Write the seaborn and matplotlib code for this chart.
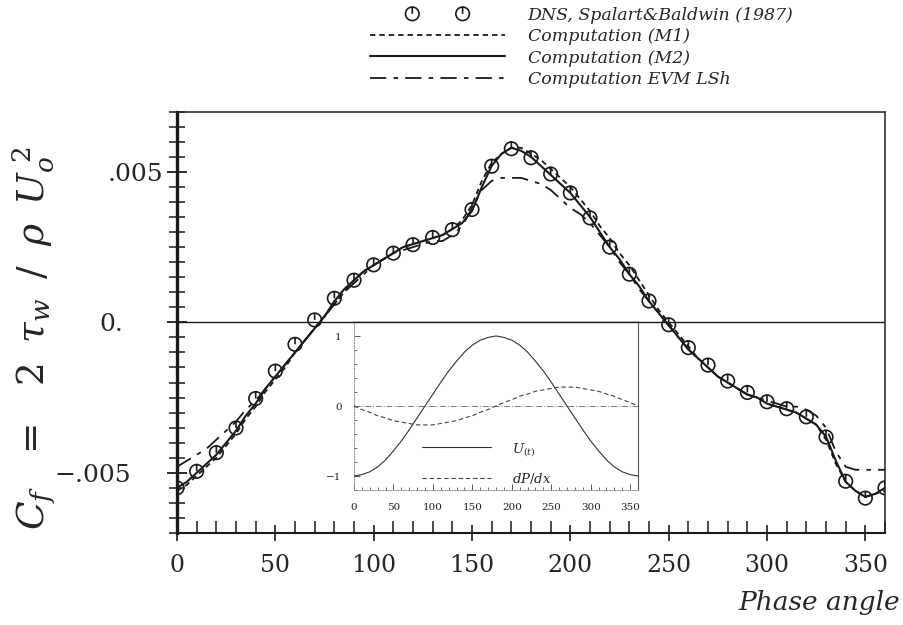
import matplotlib
matplotlib.use("Agg")
import matplotlib.pyplot as plt
from matplotlib.path import Path
from matplotlib.ticker import MultipleLocator, FixedLocator, FixedFormatter, NullFormatter
from matplotlib.legend_handler import HandlerPathCollection
from matplotlib.transforms import ScaledTranslation
import pandas as pd
import seaborn as sns

# ---------------------------------------------------------------- data
# DNS skin friction, Spalart & Baldwin (1987), every 10 degrees of phase
dns_phase = list(range(0, 370, 10))
dns_cf = [-0.00550, -0.00495, -0.00433, -0.00351, -0.00253, -0.00162, -0.00073,
          0.00008, 0.00080, 0.00140, 0.00191, 0.00230, 0.00258, 0.00282,
          0.00308, 0.00375, 0.00519, 0.00577, 0.00547, 0.00493, 0.00430,
          0.00347, 0.00250, 0.00160, 0.00071, -0.00008, -0.00084, -0.00142,
          -0.00195, -0.00233, -0.00264, -0.00287, -0.00314, -0.00381,
          -0.00528, -0.00584, -0.00550]

# computed skin friction, every 5 degrees of phase
calc_phase = list(range(0, 365, 5))
cf_m1 = [-0.0056, -0.0054, -0.0051, -0.0048, -0.0045, -0.0041, -0.0037, -0.0032,
         -0.0028, -0.0023, -0.0019, -0.0015, -0.0010, -0.0006, -0.0002, 0.0002,
         0.0006, 0.0010, 0.0014, 0.0017, 0.0019, 0.0021, 0.0023, 0.0025,
         0.0026, 0.0027, 0.0028, 0.0029, 0.0031, 0.0034, 0.0039, 0.0047,
         0.0053, 0.0056, 0.0058, 0.0058, 0.0056, 0.0054, 0.0051, 0.0048,
         0.0045, 0.0041, 0.0037, 0.0032, 0.0028, 0.0023, 0.0019, 0.0014,
         0.0009, 0.0004, 0.0000, -0.0004, -0.0008, -0.0012, -0.0015, -0.0018,
         -0.0020, -0.0022, -0.0024, -0.0025, -0.0027, -0.0028, -0.0029, -0.0030,
         -0.0032, -0.0034, -0.0039, -0.0047, -0.0053, -0.0056, -0.0058, -0.0057,
         -0.0056]
cf_m2 = [-0.0055, -0.0053, -0.0050, -0.0047, -0.0044, -0.0040, -0.0036, -0.0031,
         -0.0027, -0.0022, -0.0018, -0.0014, -0.0010, -0.0006, -0.0002, 0.0002,
         0.0007, 0.0011, 0.0014, 0.0017, 0.0019, 0.0021, 0.0023, 0.0025,
         0.0026, 0.0027, 0.0028, 0.0029, 0.0031, 0.0033, 0.0037, 0.0045,
         0.0052, 0.0056, 0.0058, 0.0057, 0.0055, 0.0052, 0.0049, 0.0046,
         0.0043, 0.0039, 0.0035, 0.0030, 0.0025, 0.0021, 0.0016, 0.0012,
         0.0007, 0.0003, -0.0001, -0.0005, -0.0009, -0.0012, -0.0015, -0.0018,
         -0.0020, -0.0022, -0.0024, -0.0025, -0.0027, -0.0028, -0.0029, -0.0030,
         -0.0032, -0.0034, -0.0038, -0.0046, -0.0053, -0.0056, -0.0058, -0.0057,
         -0.0055]
cf_evm = [-0.0048, -0.0046, -0.0044, -0.0042, -0.0039, -0.0036, -0.0033, -0.0029,
          -0.0026, -0.0022, -0.0018, -0.0014, -0.0010, -0.0006, -0.0002, 0.0002,
          0.0006, 0.0010, 0.0013, 0.0016, 0.0019, 0.0021, 0.0023, 0.0024,
          0.0025, 0.0026, 0.0027, 0.0027, 0.0029, 0.0032, 0.0038, 0.0044,
          0.0047, 0.0048, 0.0048, 0.0048, 0.0047, 0.0046, 0.0044, 0.0041,
          0.0038, 0.0036, 0.0033, 0.0029, 0.0025, 0.0020, 0.0016, 0.0011,
          0.0007, 0.0003, -0.0001, -0.0005, -0.0009, -0.0012, -0.0015, -0.0018,
          -0.0020, -0.0022, -0.0024, -0.0025, -0.0026, -0.0027, -0.0028, -0.0028,
          -0.0029, -0.0031, -0.0035, -0.0043, -0.0048, -0.0049, -0.0049, -0.0049,
          -0.0049]

series_labels = ["DNS, Spalart&Baldwin (1987)", "Computation (M1)",
                 "Computation (M2)", "Computation EVM LSh"]

# inset: free-stream velocity and pressure gradient over one cycle
inset_phase = list(range(0, 370, 10))
u_ext = [-1.00, -0.98, -0.94, -0.87, -0.77, -0.64, -0.50, -0.34, -0.17, 0.00,
         0.17, 0.34, 0.50, 0.64, 0.77, 0.87, 0.94, 0.98, 1.00, 0.98, 0.94,
         0.87, 0.77, 0.64, 0.50, 0.34, 0.17, 0.00, -0.17, -0.34, -0.50, -0.64,
         -0.77, -0.87, -0.94, -0.98, -1.00]
dpdx = [0.00, -0.05, -0.09, -0.14, -0.17, -0.21, -0.23, -0.25, -0.27, -0.27,
        -0.27, -0.25, -0.23, -0.21, -0.17, -0.14, -0.09, -0.05, 0.00, 0.05,
        0.09, 0.14, 0.17, 0.21, 0.23, 0.25, 0.27, 0.27, 0.27, 0.25, 0.23,
        0.21, 0.17, 0.14, 0.09, 0.05, 0.00]
inset_labels = [r"$U_{(t)}$", r"$dP/dx$"]

x_ticks = [0, 50, 100, 150, 200, 250, 300, 350]
y_ticks = [-0.005, 0.0, 0.005]
y_tick_labels = ["\u2212.005", "0.", ".005"]
inset_y_ticks = [-1, 0, 1]
inset_y_tick_labels = ["\u22121", "0", "1"]

dns = pd.DataFrame({"phase": dns_phase, "cf": dns_cf})
calc = pd.DataFrame({"phase": calc_phase, "m1": cf_m1, "m2": cf_m2, "evm": cf_evm})
forcing = pd.DataFrame({"phase": inset_phase, "u": u_ext, "dpdx": dpdx})

# ---------------------------------------------------------------- style
sns.set_theme(style="white")
plt.rcParams["font.family"] = ["DejaVu Serif"]
plt.rcParams["mathtext.fontset"] = "dejavuserif"

fig = plt.figure(figsize=(9.04, 6.25), dpi=100)
ax = fig.add_axes([0.1958, 0.1472, 0.7832, 0.6741])

# circle with a short radial tick, the DNS symbol
circle_tick = Path.make_compound_path(
    Path.unit_circle(),
    Path([(0.0, 0.0), (0.0, 1.0)], [Path.MOVETO, Path.LINETO]),
)

sns.scatterplot(data=dns, x="phase", y="cf", ax=ax, marker=circle_tick, s=95,
                color="k", edgecolor="k", linewidth=1.2, zorder=5,
                label=series_labels[0])
dns_points = ax.collections[-1]
dns_points.set_facecolor("none")
dns_points.set_edgecolor("k")

sns.lineplot(data=calc, x="phase", y="m1", ax=ax, color="k", lw=1.3,
             linestyle=(0, (3.0, 2.2)), label=series_labels[1], zorder=3)
sns.lineplot(data=calc, x="phase", y="m2", ax=ax, color="k", lw=1.5,
             linestyle="-", label=series_labels[2], zorder=4)
sns.lineplot(data=calc, x="phase", y="evm", ax=ax, color="k", lw=1.3,
             linestyle=(0, (9.0, 4.0, 2.5, 4.0)), label=series_labels[3], zorder=3)

ax.axhline(0.0, color="k", lw=1.0, zorder=2)

ax.set_xlim(0, 360)
ax.set_ylim(-0.007, 0.007)

ax.xaxis.set_major_locator(FixedLocator(x_ticks))
ax.xaxis.set_minor_locator(MultipleLocator(10))
ax.yaxis.set_major_locator(FixedLocator(y_ticks))
ax.yaxis.set_major_formatter(FixedFormatter(y_tick_labels))
ax.yaxis.set_minor_locator(MultipleLocator(0.0005))
ax.yaxis.set_minor_formatter(NullFormatter())

ax.tick_params(axis="x", which="major", direction="inout", length=12, width=1.2,
               labelsize=17, pad=9, bottom=True, top=False, color="k")
ax.tick_params(axis="x", which="minor", direction="in", length=9, width=1.1,
               bottom=True, top=False, color="k")
ax.tick_params(axis="y", which="major", direction="inout", length=14, width=1.3,
               labelsize=18, pad=24, left=True, right=False, color="k")
ax.tick_params(axis="y", which="minor", direction="inout", length=11, width=1.1,
               left=True, right=False, color="k")

# the y tick labels sit at slightly different distances from the axis
y_label_shift_pt = [-2.0, -8.0, 21.0]
for tick, dx in zip(ax.yaxis.get_major_ticks(), y_label_shift_pt):
    tick.label1.set_transform(tick.label1.get_transform()
                              + ScaledTranslation(dx / 72.0, 0, fig.dpi_scale_trans))

for side, lw, col in [("left", 2.4, "k"), ("bottom", 1.5, "k"),
                      ("top", 1.1, "#222222"), ("right", 1.1, "#222222")]:
    ax.spines[side].set_visible(True)
    ax.spines[side].set_linewidth(lw)
    ax.spines[side].set_color(col)

ax.set_ylabel(r"$C_f\;\;\;=\;\;\;2\;\;\tau_w\;\;/\;\;\rho\;\;U_o^{\;2}$", fontsize=27)
ax.yaxis.set_label_coords(-0.17, 0.462)
ax.set_xlabel("Phase angle", fontsize=19, style="italic", ha="right")
ax.xaxis.set_label_coords(1.021, -0.135)

# legend above the plotting area
handles, labels = ax.get_legend_handles_labels()
if ax.get_legend() is not None:
    ax.get_legend().remove()
order = [labels.index(lbl) for lbl in series_labels]
handles = [handles[i] for i in order]
labels = [labels[i] for i in order]
fig.legend(handles, labels, loc="upper left", bbox_to_anchor=(0.409, 0.989),
           frameon=False, borderpad=0, borderaxespad=0,
           prop={"family": "DejaVu Serif", "style": "italic", "size": 12.5},
           handlelength=7.8, handletextpad=1.3, labelspacing=0.25,
           scatterpoints=2,
           handler_map={dns_points: HandlerPathCollection(numpoints=2,
                                                          yoffsets=[0.5, 0.5],
                                                          marker_pad=2.45)})

# ---------------------------------------------------------------- inset
ins = fig.add_axes([0.3916, 0.216, 0.3142, 0.2688])
ins.set_facecolor("white")
ins.axhline(0.0, color="#777777", lw=0.7, linestyle=(0, (6, 2, 1, 2)), zorder=1)
sns.lineplot(data=forcing, x="phase", y="u", ax=ins, color="#333333", lw=0.8,
             linestyle="-", label=inset_labels[0], zorder=3)
sns.lineplot(data=forcing, x="phase", y="dpdx", ax=ins, color="#444444", lw=0.8,
             linestyle=(0, (4, 2.5)), label=inset_labels[1], zorder=3)
ins.set_xlim(0, 360)
ins.set_ylim(-1.2, 1.2)
ins.set_xlabel("")
ins.set_ylabel("")
ins.xaxis.set_major_locator(FixedLocator(x_ticks))
ins.xaxis.set_minor_locator(MultipleLocator(10))
ins.yaxis.set_major_locator(FixedLocator(inset_y_ticks))
ins.yaxis.set_major_formatter(FixedFormatter(inset_y_tick_labels))
ins.yaxis.set_minor_locator(MultipleLocator(0.2))
ins.tick_params(axis="both", which="major", direction="in", length=4, width=0.7,
                labelsize=7.5, pad=9, color="#555555", labelcolor="#222222",
                bottom=True, left=True, top=False, right=False)
ins.tick_params(axis="both", which="minor", direction="in", length=2.5, width=0.6,
                color="#555555", bottom=True, left=True, top=False, right=False)
for side in ["left", "bottom"]:
    ins.spines[side].set_linewidth(0.7)
    ins.spines[side].set_color("#888888")
    ins.spines[side].set_linestyle(":")
ins.spines["right"].set_linewidth(0.8)
ins.spines["right"].set_color("#555555")
ins.spines["top"].set_linewidth(1.0)
ins.spines["top"].set_color("k")
ins.legend(loc="lower left", bbox_to_anchor=(0.24, 0.025), frameon=False,
           borderpad=0, borderaxespad=0, fontsize=9.5, handlelength=5.2,
           handletextpad=1.6, labelspacing=1.0)

fig.savefig("out.png", dpi=100)
